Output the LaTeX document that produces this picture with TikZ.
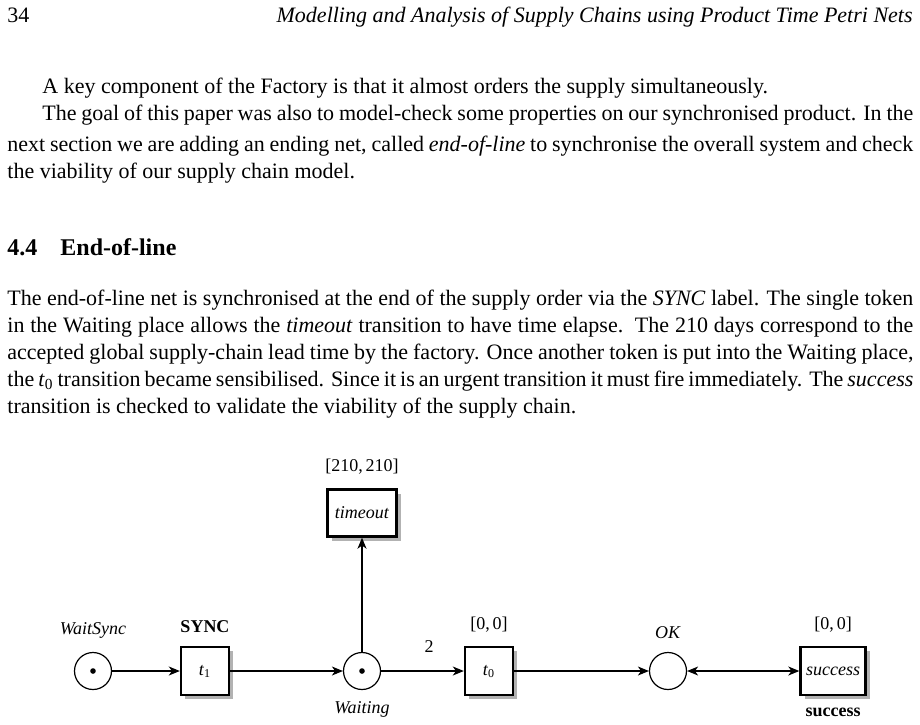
\documentclass[tikz,border=0pt]{standalone}
\usepackage{fontspec}
\setmainfont{Liberation Serif}
\usepackage{tikz}
\usetikzlibrary{
    arrows.meta,
    positioning,
    shadows
}
\tikzset{
  txt/.style    = {anchor=base west, inner sep=0pt,
                   font=\fontsize{11}{13.6}\selectfont},
  place/.style  = {draw, circle, line width=0.6pt, minimum size=18.5pt,
                   inner sep=0pt},
  marked/.style = {path picture={\fill (path picture bounding box.center)
                   circle (1.4pt);}},
  trans/.style  = {draw, line width=1.2pt, fill=white, minimum width=24pt,
                   minimum height=24pt, inner sep=0pt, font=\fontsize{9}{11}\selectfont,
                   drop shadow={shadow xshift=2.2pt, shadow yshift=-2.2pt,
                                fill=black!30, opacity=1}},
  arr/.style    = {-{Stealth[length=5.5pt,width=4.5pt,inset=1.6pt]}, line width=0.6pt},
  darr/.style   = {{Stealth[length=5.5pt,width=4.5pt,inset=1.6pt]}-{Stealth[length=5.5pt,width=4.5pt,inset=1.6pt]},
                   line width=0.6pt}
}
\newcommand{\jline}[2]{\makebox[#1][s]{#2}}

\begin{document}
\begin{tikzpicture}[x=0.5pt, y=-0.5pt,
    lbl/.style={font=\fontsize{9}{11}\selectfont, inner sep=0pt}
  ]
    \useasboundingbox (0,0) rectangle (920,724);
    % running head
    \node[txt](pg) at (7,22) {34};
    \node[txt, anchor=base east](head) at (913,22)
      {\textit{Modelling and Analysis of Supply Chains using Product Time Petri Nets}};
    % first paragraphs
    \node[txt](p1) at (42,93)
      {A key component of the Factory is that it almost orders the supply simultaneously.};
    \node[txt](p2a) at (42,120) {\jline{435.5pt}{The goal of this paper was also to model-check some properties on our synchronised product. In the}};
    \node[txt](p2b) at (7,151) {\jline{453pt}{next section we are adding an ending net, called \textit{end-of-line} to synchronise the overall system and check}};
    \node[txt](p2c) at (7,178) {the viability of our supply chain model.};
    % section
    \node[txt, font=\fontsize{12}{14}\selectfont\bfseries](secnum) at (7,255) {4.4};
    \node[txt, font=\fontsize{12}{14}\selectfont\bfseries](sectitle) at (60,255) {End-of-line};
    \node[txt](p3a) at (7,305) {\jline{453pt}{The end-of-line net is synchronised at the end of the supply order via the \textit{SYNC} label. The single token}};
    \node[txt](p3b) at (7,332) {\jline{453pt}{in the Waiting place allows the \textit{timeout} transition to have time elapse.\ \ The 210 days correspond to the}};
    \node[txt](p3c) at (7,359) {\jline{453pt}{accepted global supply-chain lead time by the factory. Once another token is put into the Waiting place,}};
    \node[txt](p3d) at (7,386) {\jline{453pt}{the \textit{t}\textsubscript{0} transition became sensibilised. Since it is an urgent transition it must fire immediately. The \textit{success}}};
    \node[txt](p3e) at (7,413) {transition is checked to validate the viability of the supply chain.};
    % end-of-line net
    \node[place, marked](waitsync) at (93,671) {};
    \node[trans](t1)      at (205,671) {\textit{t}\textsubscript{1}};
    \node[place, marked](waiting)  at (362,671) {};
    \node[trans, minimum width=34.5pt, minimum height=23.5pt](timeout) at (362,513) {\textit{timeout}};
    \node[trans](t0)      at (489,671) {\textit{t}\textsubscript{0}};
    \node[place](ok)      at (668,671) {};
    \node[trans, minimum width=32.5pt](success) at (833,671) {\textit{success}};
    \node[lbl](lws)  at (93,630)  {\textit{WaitSync}};
    \node[lbl](lsync) at (205,627) {\textbf{SYNC}};
    \node[lbl](lwait) at (362,709) {\textit{Waiting}};
    \node[lbl](ito)  at (362,467) {[210,\,210]};
    \node[lbl](it0)  at (489,625) {[0,\,0]};
    \node[lbl](lok)  at (668,633) {\textit{OK}};
    \node[lbl](isc)  at (833,625) {[0,\,0]};
    \node[lbl](lsc)  at (833,712) {\textbf{success}};
    \node[lbl](w2)   at (429,647) {2};
    \draw[arr](waitsync)--(t1); \draw[arr](t1)--(waiting);
    \draw[arr](waiting)--(timeout); \draw[arr](waiting)--(t0);
    \draw[arr](t0)--(ok); \draw[darr](ok)--(success);
  \end{tikzpicture}
\end{document}
